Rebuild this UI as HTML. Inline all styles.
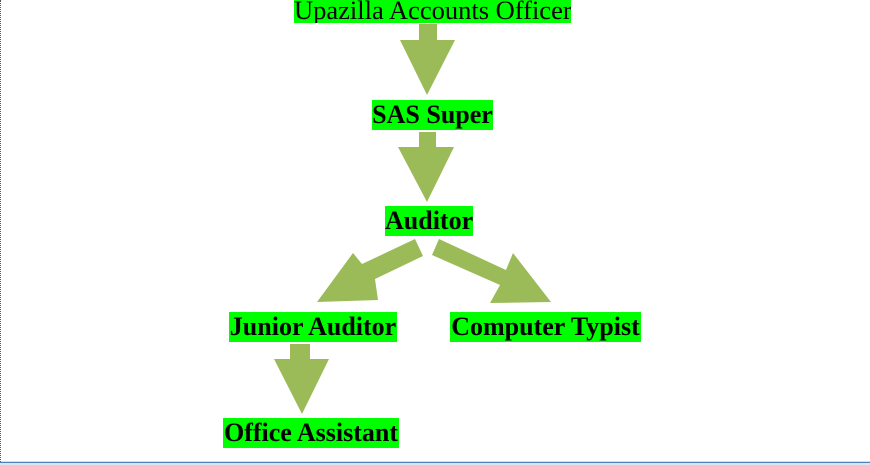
<!DOCTYPE html>
<html><head><style>
body{margin:0;width:870px;height:465px;background:#fff;position:relative;overflow:hidden;font-family:"Liberation Serif",serif;}
.b{position:absolute;background:#00ff00;color:#000;font-weight:bold;font-size:26px;line-height:30px;text-align:center;white-space:nowrap;overflow:hidden;}
</style></head><body>
<div style="position:absolute;left:0;top:0;height:462px;border-left:1px dotted #555;"></div>
<div class="b" style="left:294px;top:0;width:277px;height:23px;line-height:20px;font-weight:normal;font-size:26.5px;">Upazilla Accounts Officer</div>
<div class="b" style="left:372px;top:100px;width:121px;">SAS Super</div>
<div class="b" style="left:385px;top:206px;width:88px;">Auditor</div>
<div class="b" style="left:229px;top:312px;width:168px;">Junior Auditor</div>
<div class="b" style="left:450px;top:312px;width:191px;">Computer Typist</div>
<div class="b" style="left:223px;top:418px;width:176px;">Office Assistant</div>
<svg width="870" height="465" style="position:absolute;left:0;top:0">
<g fill="#9bbb59">
<polygon points="419,24 437,24 437,40 455,40 427,95 400,40 419,40"/>
<polygon points="419,132 436,132 436,147 454,147 427,202 398,147 419,147"/>
<polygon points="415,239 423,256 375,279 378,300 317,302 353,253 362,264"/>
<polygon points="439,239 432,255 500,285 490,303 551,302 513,253 506,270"/>
<polygon points="290,344 310,344 310,359 329,359 302,414 274,359 290,359"/>
</g>
<line x1="0" y1="462.5" x2="870" y2="462.5" stroke="#4f81bd" stroke-width="1.5"/>
<rect x="0" y="463" width="870" height="2" fill="#dbe5f1"/>
</svg>
</body></html>
